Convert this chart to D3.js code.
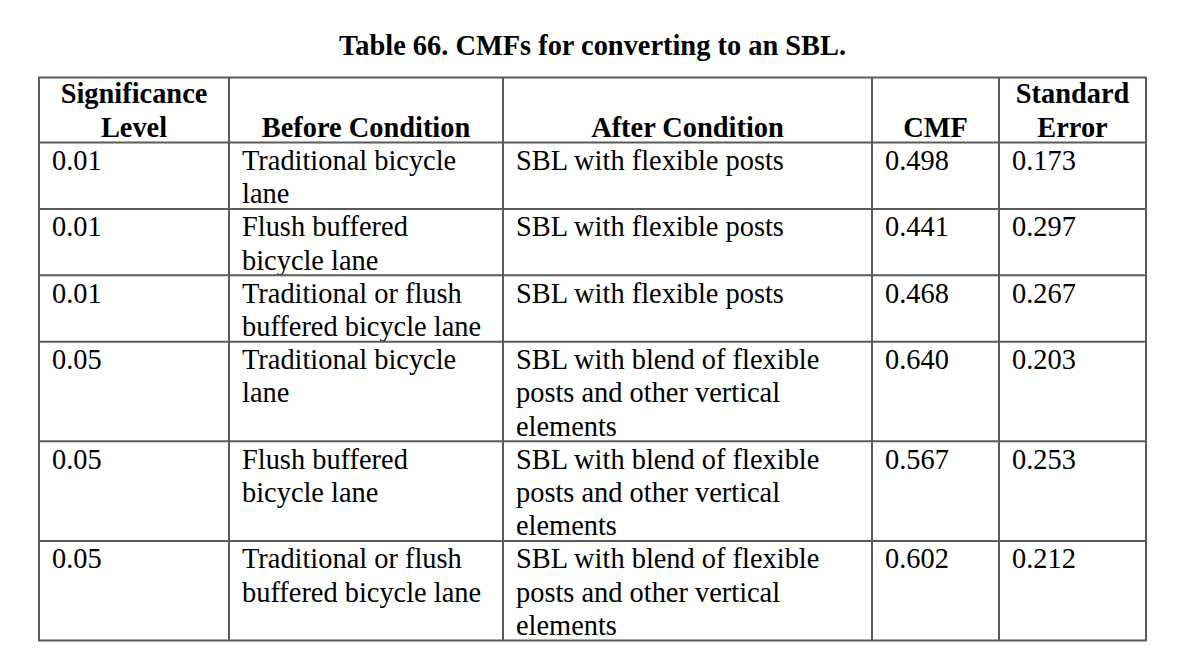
<!DOCTYPE html>
<html>
<head>
<meta charset="utf-8">
<script src="https://cdn.jsdelivr.net/npm/d3@7"></script>
<style>
  html, body { margin: 0; padding: 0; background: #fff; }
  svg text { font-family: "Liberation Serif", "Times New Roman", serif; fill: #000; }
</style>
</head>
<body>
<svg id="tbl" width="1179" height="663"></svg>
<script>
const TITLE = "Table 66. CMFs for converting to an SBL.";

// header labels (line breaks as in the report)
const headers = [
  ["Significance", "Level"],
  ["Before Condition"],
  ["After Condition"],
  ["CMF"],
  ["Standard", "Error"],
];

const significance = ["0.01", "0.01", "0.01", "0.05", "0.05", "0.05"];
const beforeCond = [
  ["Traditional bicycle", "lane"],
  ["Flush buffered", "bicycle lane"],
  ["Traditional or flush", "buffered bicycle lane"],
  ["Traditional bicycle", "lane"],
  ["Flush buffered", "bicycle lane"],
  ["Traditional or flush", "buffered bicycle lane"],
];
const afterCond = [
  ["SBL with flexible posts"],
  ["SBL with flexible posts"],
  ["SBL with flexible posts"],
  ["SBL with blend of flexible", "posts and other vertical", "elements"],
  ["SBL with blend of flexible", "posts and other vertical", "elements"],
  ["SBL with blend of flexible", "posts and other vertical", "elements"],
];
const cmf = ["0.498", "0.441", "0.468", "0.640", "0.567", "0.602"];
const stdErr = ["0.173", "0.297", "0.267", "0.203", "0.253", "0.212"];

// layout
const colEdges = [39, 229, 503, 872, 999, 1146];
const headTop = 77.5, headBottom = 142.5;
const lineH = 33.2;
const fontSize = 28.4;
const padX = 13;
const lineColor = "#5b5b5b";

const svg = d3.select("#tbl");

// title
svg.append("text")
  .attr("x", (colEdges[0] + colEdges.at(-1)) / 2)
  .attr("y", 55)
  .attr("text-anchor", "middle")
  .attr("font-weight", "bold")
  .attr("font-size", fontSize)
  .text(TITLE);

// rows -> cells
const rows = significance.map((s, i) => [[s], beforeCond[i], afterCond[i], [cmf[i]], [stdErr[i]]]);

// row tops from line counts
const rowTops = [headBottom];
rows.forEach(r => {
  const n = d3.max(r, c => c.length);
  rowTops.push(rowTops.at(-1) + n * lineH);
});
const tableBottom = rowTops.at(-1);

// header text: bold, centered, bottom aligned
headers.forEach((lines, ci) => {
  const cx = (colEdges[ci] + colEdges[ci + 1]) / 2;
  const t = svg.append("text")
    .attr("text-anchor", "middle")
    .attr("font-weight", "bold")
    .attr("font-size", fontSize);
  lines.forEach((ln, k) => {
    t.append("tspan")
      .attr("x", cx)
      .attr("y", headBottom - 6 - (lines.length - 1 - k) * lineH)
      .text(ln);
  });
});

// body text
const rowG = svg.selectAll("g.row")
  .data(rows)
  .join("g")
  .attr("class", "row");

rowG.each(function (r, ri) {
  const g = d3.select(this);
  r.forEach((lines, ci) => {
    const t = g.append("text").attr("font-size", fontSize);
    lines.forEach((ln, k) => {
      t.append("tspan")
        .attr("x", colEdges[ci] + padX)
        .attr("y", rowTops[ri] + 27.5 + k * lineH)
        .text(ln);
    });
  });
});

// grid lines
const grid = svg.append("g")
  .attr("stroke", lineColor)
  .attr("stroke-width", 2)
  .attr("fill", "none");

grid.selectAll("line.h")
  .data([headTop, ...rowTops])
  .join("line")
  .attr("class", "h")
  .attr("x1", colEdges[0] - 1)
  .attr("x2", colEdges.at(-1) + 1)
  .attr("y1", d => d)
  .attr("y2", d => d);

grid.selectAll("line.v")
  .data(colEdges)
  .join("line")
  .attr("class", "v")
  .attr("x1", d => d)
  .attr("x2", d => d)
  .attr("y1", headTop)
  .attr("y2", tableBottom);
</script>
</body>
</html>
